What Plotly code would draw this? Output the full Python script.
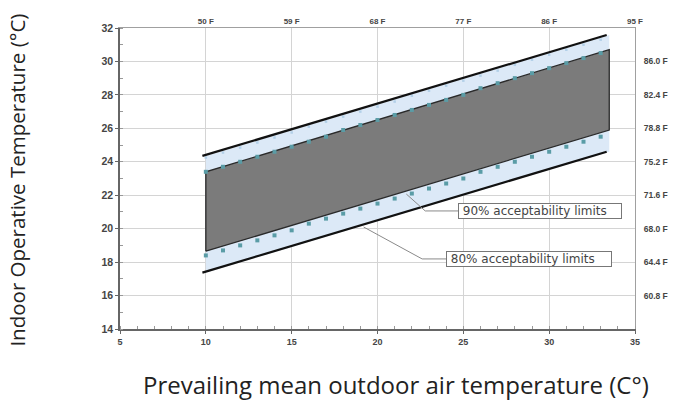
import plotly.graph_objects as go

# Prevailing mean outdoor temperature span of the comfort zone (deg C)
band_x = [10.0, 33.5]
limit_x = [9.8, 33.35]

# 80 % acceptability limits (deg C)
upper_80 = [24.35, 31.58]
lower_80 = [17.37, 24.6]

# 90 % acceptability zone (deg C)
zone90_upper = [23.4, 30.7]
zone90_lower = [18.65, 25.9]

# Marked points along the 90 % limits, one per degree of outdoor temperature
dot_x = list(range(10, 34))
dot_upper = [23.4, 23.7, 24.0, 24.3, 24.6, 24.9, 25.2, 25.5, 25.9, 26.2, 26.5, 26.8,
             27.1, 27.4, 27.7, 28.0, 28.4, 28.7, 29.0, 29.3, 29.6, 29.9, 30.2, 30.5]
dot_lower = [18.4, 18.7, 19.0, 19.3, 19.6, 19.9, 20.3, 20.6, 20.9, 21.2, 21.5, 21.8,
             22.1, 22.4, 22.7, 23.0, 23.4, 23.7, 24.0, 24.3, 24.6, 24.9, 25.2, 25.5]
dot_top80 = [24.25, 24.55, 24.85, 25.15, 25.45, 25.75, 26.1, 26.4, 26.7, 27.0, 27.3, 27.6,
             27.95, 28.25, 28.55, 28.85, 29.15, 29.45, 29.8, 30.1, 30.4, 30.7, 31.0, 31.3]

# Axis ticks
x_ticks = [5, 10, 15, 20, 25, 30, 35]
y_ticks = [14, 16, 18, 20, 22, 24, 26, 28, 30, 32]
top_ticks = [10, 15, 20, 25, 30, 35]
top_labels = ["50 F", "59 F", "68 F", "77 F", "86 F", "95 F"]
right_ticks = [16, 18, 20, 22, 24, 26, 28, 30]
right_labels = ["60.8 F", "64.4 F", "68.0 F", "71.6 F", "75.2 F", "78.8 F", "82.4 F", "86.0 F"]

fig = go.Figure()

# light blue 80 % band
fig.add_trace(go.Scatter(x=band_x, y=lower_80, mode="lines", line=dict(width=0),
                         hoverinfo="skip", showlegend=False))
fig.add_trace(go.Scatter(x=band_x, y=upper_80, mode="lines", line=dict(width=0),
                         fill="tonexty", fillcolor="#dce9f7", hoverinfo="skip", showlegend=False))

# grey 90 % zone
zx = [band_x[0], band_x[1], band_x[1], band_x[0], band_x[0]]
zy = [zone90_lower[0], zone90_lower[1], zone90_upper[1], zone90_upper[0], zone90_lower[0]]
fig.add_trace(go.Scatter(x=zx, y=zy, mode="lines", fill="toself", fillcolor="#7b7b7b",
                         line=dict(color="#2a2a2a", width=1.3), hoverinfo="skip", showlegend=False))

# faint marks under the upper 80 % limit
fig.add_trace(go.Scatter(x=dot_x, y=dot_top80, mode="markers",
                         marker=dict(symbol="square", size=2.5, color="#b3d0e8"),
                         hoverinfo="skip", showlegend=False))

# 80 % limit lines
for ys in (upper_80, lower_80):
    fig.add_trace(go.Scatter(x=limit_x, y=ys, mode="lines",
                             line=dict(color="#111111", width=2.2),
                             hoverinfo="skip", showlegend=False))

# teal marks along the 90 % limits
for ys in (dot_upper, dot_lower):
    fig.add_trace(go.Scatter(x=dot_x, y=ys, mode="markers",
                             marker=dict(symbol="square", size=4, color="#5a9ca6"),
                             hoverinfo="skip", showlegend=False))

# secondary axes carrying Fahrenheit labels
fig.add_trace(go.Scatter(x=[5], y=[14], xaxis="x2", yaxis="y2", mode="markers",
                         marker=dict(opacity=0), hoverinfo="skip", showlegend=False))

def tfont(size):
    return dict(family="Liberation Sans, Arial", size=size, color="#454545", weight="bold")

fig.update_layout(
    width=680, height=403,
    margin=dict(l=120, r=42, t=28, b=74),
    paper_bgcolor="white", plot_bgcolor="white",
    xaxis=dict(range=[5, 35], tickvals=x_ticks, showgrid=True, gridcolor="#d4d4d4",
               zeroline=False, showline=True, linecolor="#666666", linewidth=1.5,
               ticks="outside", ticklen=3, tickcolor="#666666",
               minor=dict(dtick=1, ticks="inside", ticklen=3, tickcolor="#999999", showgrid=False),
               tickfont=tfont(9)),
    yaxis=dict(range=[14, 32], tickvals=y_ticks, showgrid=True, gridcolor="#d4d4d4",
               zeroline=False, showline=True, linecolor="#666666", linewidth=1.5,
               ticks="outside", ticklen=3, tickcolor="#666666",
               minor=dict(dtick=1, ticks="inside", ticklen=3, tickcolor="#999999", showgrid=False),
               tickfont=tfont(10.5)),
    xaxis2=dict(overlaying="x", side="top", range=[5, 35], tickvals=top_ticks,
                ticktext=top_labels, showgrid=False, zeroline=False, showline=True,
                linecolor="#a0a0a0", linewidth=1, ticks="", tickfont=tfont(8)),
    yaxis2=dict(overlaying="y", side="right", range=[14, 32], tickvals=right_ticks,
                ticktext=right_labels, showgrid=False, zeroline=False, showline=True,
                linecolor="#a0a0a0", linewidth=1, ticks="", ticklabelstandoff=6,
                tickfont=tfont(8.5)),
    showlegend=False,
)

# leader lines for the limit labels
leader_90 = [(21.68, 22.07), (22.78, 21.06), (24.69, 21.06)]
leader_80 = [(19.19, 20.10), (22.60, 18.19), (23.99, 18.19)]
for pts in (leader_90, leader_80):
    for (xa, ya), (xb, yb) in zip(pts[:-1], pts[1:]):
        fig.add_shape(type="line", x0=xa, y0=ya, x1=xb, y1=yb, xref="x", yref="y",
                      line=dict(color="#8a8a8a", width=1))

box_font = dict(family="DejaVu Sans", size=12, color="#444444")
fig.add_annotation(x=24.69, y=21.06, xref="x", yref="y", xanchor="left", yanchor="middle",
                   text=" 90% acceptability limits", showarrow=False, font=box_font,
                   bgcolor="white", bordercolor="#777777", borderwidth=1, borderpad=0,
                   width=162, height=14, align="left")
fig.add_annotation(x=23.99, y=18.19, xref="x", yref="y", xanchor="left", yanchor="middle",
                   text=" 80% acceptability limits", showarrow=False, font=box_font,
                   bgcolor="white", bordercolor="#777777", borderwidth=1, borderpad=0,
                   width=164, height=14, align="left")

# axis titles (positions in paper units of the 518 x 301 px plot area)
fig.add_annotation(xref="paper", yref="paper", x=(398 - 120) / 518, y=-(384 - 329) / 301,
                   text="Prevailing mean outdoor air temperature (C°)", showarrow=False,
                   font=dict(family="Open Sans", size=24, color="#222222"),
                   xanchor="center", yanchor="middle")
fig.add_annotation(xref="paper", yref="paper", x=-(120 - 16) / 518, y=(329 - 180) / 301,
                   text="Indoor Operative Temperature (°C)", showarrow=False,
                   font=dict(family="Open Sans", size=20.5, color="#222222"),
                   textangle=-90, xanchor="center", yanchor="middle")

fig.write_html("out.html")
